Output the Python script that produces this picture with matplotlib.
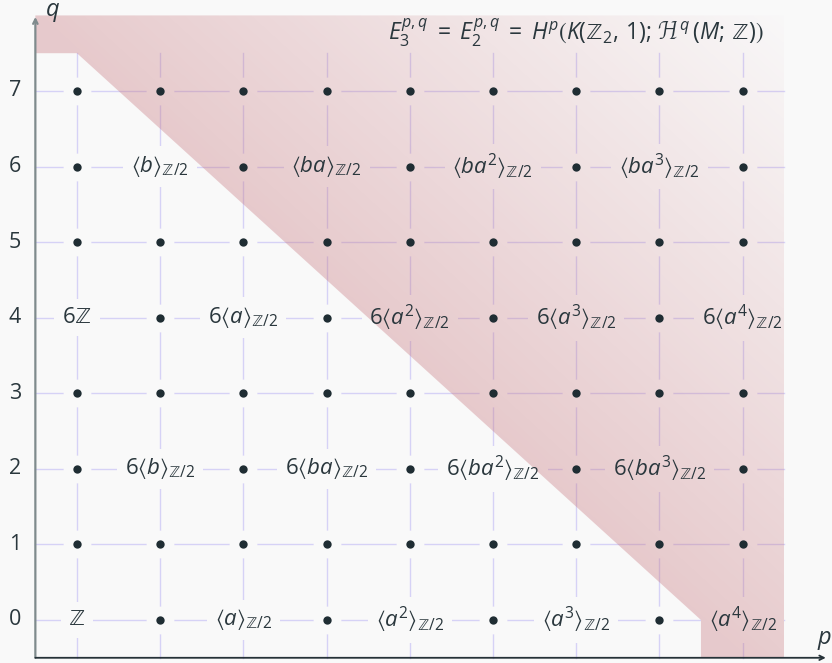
import matplotlib
matplotlib.use('Agg')
import matplotlib.pyplot as plt
from matplotlib.patches import Polygon
import numpy as np

BG = '#f9f9f9'
C_GRID = '#d6d2f6'
C_DOT = '#1f2d33'
C_TEXT = '#2a373d'
C_YAXIS = '#7f8b8d'
C_XAXIS = '#263238'
SHADE_RGB = (0.78, 0.46, 0.49)

plt.rcParams['mathtext.fontset'] = 'custom'
plt.rcParams['mathtext.rm'] = 'Open Sans'
plt.rcParams['mathtext.it'] = 'Open Sans:italic'
plt.rcParams['mathtext.fallback'] = 'stixsans'
plt.rcParams['font.family'] = ['Open Sans', 'DejaVu Sans']

# page size: p = 0..8, q = 0..7
p_vals = list(range(0, 9))
q_vals = list(range(0, 8))

# labelled entries of the E2 page
label_p = [0, 2, 4, 6, 8,
           1, 3, 5, 7,
           0, 2, 4, 6, 8,
           1, 3, 5, 7]
label_q = [0, 0, 0, 0, 0,
           2, 2, 2, 2,
           4, 4, 4, 4, 4,
           6, 6, 6, 6]
label_text = [
    r'$ℤ$',
    r'$\langle a\rangle_{ℤ/2}$',
    r'$\langle a^2\rangle_{ℤ/2}$',
    r'$\langle a^3\rangle_{ℤ/2}$',
    r'$\langle a^4\rangle_{ℤ/2}$',
    r'$6\langle b\rangle_{ℤ/2}$',
    r'$6\langle ba\rangle_{ℤ/2}$',
    r'$6\langle ba^2\rangle_{ℤ/2}$',
    r'$6\langle ba^3\rangle_{ℤ/2}$',
    r'$6ℤ$',
    r'$6\langle a\rangle_{ℤ/2}$',
    r'$6\langle a^2\rangle_{ℤ/2}$',
    r'$6\langle a^3\rangle_{ℤ/2}$',
    r'$6\langle a^4\rangle_{ℤ/2}$',
    r'$\langle b\rangle_{ℤ/2}$',
    r'$\langle ba\rangle_{ℤ/2}$',
    r'$\langle ba^2\rangle_{ℤ/2}$',
    r'$\langle ba^3\rangle_{ℤ/2}$',
]

title = (r'$E_3^{p,q}\;=\;E_2^{p,q}\;=\;H^p\left(K(ℤ_2,\,1);\,'
         r'\mathcal{H}^{\,q}\,(M;\,ℤ)\right)$')

labelled = set(zip(label_p, label_q))
dot_p = [p for q in q_vals for p in p_vals if (p, q) not in labelled]
dot_q = [q for q in q_vals for p in p_vals if (p, q) not in labelled]

fig = plt.figure(figsize=(8.32, 6.63), dpi=100)
fig.patch.set_facecolor(BG)
ax = fig.add_axes([0, 0, 1, 1])
ax.set_facecolor(BG)
ax.axis('off')

# grid
for q in q_vals:
    ax.plot([-0.5, max(p_vals) + 0.5], [q, q], color=C_GRID, lw=1.0, zorder=1)
for p in p_vals:
    ax.plot([p, p], [-0.5, max(q_vals) + 0.5], color=C_GRID, lw=1.0, zorder=1)

# knock the grid out around each entry
ax.plot(dot_p, dot_q, 'o', ms=20, color=BG, mec='none', zorder=2)
for p, q, s in zip(label_p, label_q, label_text):
    ax.text(p, q, s, ha='center', va='center', fontsize=16, color=BG,
            bbox=dict(boxstyle='square,pad=0.35', fc=BG, ec='none'), zorder=2)

# shaded region (killed by d2), fading towards the top-right
verts = [(-0.5, 8.0), (8.5, 8.0), (8.5, -0.5), (7.5, -0.5), (7.5, 0.0),
         (0.0, 7.5), (-0.5, 7.5)]
gx, gy = np.meshgrid(np.linspace(-0.5, 8.5, 300), np.linspace(-0.5, 8.0, 300))
t = np.clip((gx + gy - 7.5) / 9.0, 0, 1)
rgba = np.zeros(gx.shape + (4,))
rgba[..., 0], rgba[..., 1], rgba[..., 2] = SHADE_RGB
rgba[..., 3] = 0.35 * (1 - t) + 0.01
img = ax.imshow(rgba, extent=(-0.5, 8.5, -0.5, 8.0), origin='lower',
                aspect='auto', interpolation='bilinear', zorder=3)
clip = Polygon(verts, closed=True, transform=ax.transData, fc='none', ec='none')
ax.add_patch(clip)
img.set_clip_path(clip)

# entries
ax.plot(dot_p, dot_q, 'o', ms=6, color=C_DOT, mec='none', zorder=4)
for p, q, s in zip(label_p, label_q, label_text):
    ax.text(p, q, s, ha='center', va='center', fontsize=16, color=C_TEXT, zorder=4)

ax.text(8.25, 7.77, title, ha='right', va='center', fontsize=16.5, color=C_TEXT, zorder=5)

# axes
ax.annotate('', xy=(-0.5, 7.98), xytext=(-0.5, -0.5),
            arrowprops=dict(arrowstyle='->', color=C_YAXIS, lw=1.6,
                            shrinkA=0, shrinkB=0, mutation_scale=8), zorder=6)
ax.annotate('', xy=(9.0, -0.5), xytext=(-0.5, -0.5),
            arrowprops=dict(arrowstyle='->', color=C_XAXIS, lw=1.3,
                            shrinkA=0, shrinkB=0, mutation_scale=8), zorder=6)
ax.text(-0.30, 8.05, r'$q$', ha='center', va='center', fontsize=17, color=C_TEXT)
ax.text(8.98, -0.27, r'$p$', ha='center', va='center', fontsize=17, color=C_TEXT)
for q in q_vals:
    ax.text(-0.745, q, str(q), ha='center', va='center', fontsize=15.5, color=C_TEXT)

ax.set_xlim(-0.925, 9.075)
ax.set_ylim(-0.569, 8.204)

fig.savefig('out.png', dpi=100, facecolor=BG)
